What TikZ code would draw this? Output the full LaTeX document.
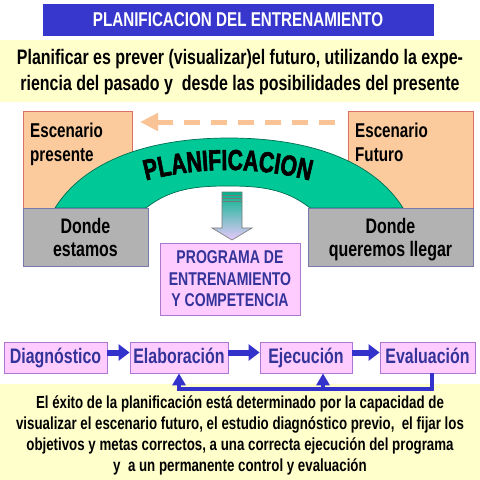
\documentclass[tikz,border=0pt]{standalone}
\usepackage{fontspec}
\setmainfont{Liberation Sans}[FakeStretch=0.76]
\newfontfamily\heavyfont{Liberation Sans}[FakeStretch=0.73,FakeBold=2]
\usetikzlibrary{arrows.meta,decorations.text}
\definecolor{titleblue}{RGB}{55,55,205}
\definecolor{bandyellow}{RGB}{255,255,204}
\definecolor{orangefill}{RGB}{251,203,158}
\definecolor{orangeline}{RGB}{220,110,100}
\definecolor{orangearrow}{RGB}{250,195,150}
\definecolor{grayfill}{RGB}{178,178,178}
\definecolor{grayline}{RGB}{120,120,170}
\definecolor{arcgreen}{RGB}{0,200,150}
\definecolor{arcline}{RGB}{0,110,80}
\definecolor{pinkfill}{RGB}{255,204,255}
\definecolor{pinkline}{RGB}{170,120,210}
\definecolor{navytext}{RGB}{51,51,153}
\definecolor{arrowblue}{RGB}{51,51,204}
\definecolor{arrowgray}{RGB}{120,120,120}
\definecolor{arrgreen}{RGB}{0,180,140}
\definecolor{arrlav}{RGB}{232,200,250}
\begin{document}
\begin{tikzpicture}[x=1pt,y=-1pt,
  obox/.style={draw=orangeline, fill=orangefill, line width=0.8pt, inner sep=0pt},
  gbox/.style={draw=grayline, fill=grayfill, line width=0.8pt, inner sep=0pt},
  pbox/.style={draw=pinkline, fill=pinkfill, line width=0.8pt, inner sep=0pt, text=navytext, font=\bfseries\fontsize{21}{25}\selectfont},
  rowbox/.style={pbox, minimum height=31pt, text height=15pt, text depth=4pt},
  lbl/.style={inner sep=0pt, font=\bfseries\fontsize{21}{24}\selectfont},
  flow/.style={draw=arrowblue, line width=6pt, -{Triangle[length=11pt,width=16pt]}},
  fb/.style={draw=arrowblue, line width=3.5pt},
  fbarrow/.style={fb, -{Triangle[length=12pt,width=13pt]}},
  darrow/.style={draw=orangearrow, line width=5pt, dash pattern=on 16pt off 11pt, -{Triangle[length=18pt,width=17pt]}}
]
\useasboundingbox (0,0) rectangle (480,480);
\fill[white] (0,0) rectangle (480,480);
% bands
\fill[bandyellow] (0,40) rectangle (480,102);
\fill[bandyellow] (0,384) rectangle (480,480);
% title
\node[fill=titleblue, draw=titleblue, minimum width=390pt, minimum height=31pt, inner sep=0pt, text=white, font=\bfseries\fontsize{20}{24}\selectfont] (title) at (238,19.5) {PLANIFICACION DEL ENTRENAMIENTO};
% intro text (base anchor = last line baseline)
\node[lbl, align=center, anchor=base, font=\bfseries\fontsize{21}{25.5}\selectfont] (intro) at (240,90) {Planificar es prever (visualizar)el futuro, utilizando la expe-\\riencia del pasado y~ desde las posibilidades del presente};
% scenario boxes
\node[obox, minimum width=109pt, minimum height=97pt] (epbox) at (77.5,159.5) {};
\node[obox, minimum width=125pt, minimum height=97pt] (efbox) at (410.5,159.5) {};
\node[lbl, align=left, anchor=base west, font=\bfseries\fontsize{20}{24}\selectfont] (eptext) at (30,161) {Escenario\\presente};
\node[lbl, align=left, anchor=base west, font=\bfseries\fontsize{20}{24}\selectfont] (eftext) at (355,161) {Escenario\\Futuro};
% dashed arrow
\coordinate (ds) at (335,122);
\coordinate (dt) at (140,122);
\draw[darrow] (ds) -- (dt);
% arch
\filldraw[fill=arcgreen, draw=arcline, line width=0.7pt] (55,208) .. controls (85,160) and (150,138) .. (229,138) .. controls (308,138) and (373,160) .. (403,208) -- (310,208) .. controls (285,188) and (258,186) .. (228,186) .. controls (198,186) and (171,188) .. (146,208) -- cycle;
\path[decorate, decoration={text along path, text align=center, text={|\heavyfont\bfseries\fontsize{29}{29}\selectfont|PLANIFICACION}}] (130,185) .. controls (195,165) and (261,165) .. (326,185);
% gray boxes
\node[gbox, minimum width=125pt, minimum height=58pt] (debox) at (85.5,237) {};
\node[gbox, minimum width=165pt, minimum height=58pt] (dqbox) at (390.5,237) {};
\node[lbl, align=center, anchor=base, font=\bfseries\fontsize{21}{23}\selectfont] (detext) at (85.5,256) {Donde\\estamos};
\node[lbl, align=center, anchor=base, font=\bfseries\fontsize{21}{23}\selectfont] (dqtext) at (390.5,256) {Donde\\queremos llegar};
% down arrow
\shadedraw[top color=arrgreen, bottom color=arrlav, draw=arrowgray, line width=0.6pt]
  (222,192) -- (242,192) -- (242,228) -- (252,228) -- (232,240) -- (212,228) -- (222,228) -- cycle;
\draw[arrowgray, line width=0.6pt] (222,195) -- (242,195) (222,198) -- (242,198) (222,201) -- (242,201);
% program box
\node[pbox, minimum width=140pt, minimum height=72pt, align=center, font=\bfseries\fontsize{18.5}{21.5}\selectfont] (prog) at (230,279) {PROGRAMA DE\\ENTRENAMIENTO\\Y COMPETENCIA};
% process row
\node[rowbox, minimum width=103pt] (diag) at (55.5,357.5) {Diagnóstico};
\node[rowbox, minimum width=98pt] (elab) at (179,357.5) {Elaboración};
\node[rowbox, minimum width=92pt] (ejec) at (306,357.5) {Ejecución};
\node[rowbox, minimum width=95pt] (eval) at (427.5,357.5) {Evaluación};
\draw[flow] ([yshift=5pt]diag.east) -- ([yshift=5pt]elab.west);
\draw[flow] ([yshift=5pt]elab.east) -- ([yshift=5pt]ejec.west);
\draw[flow] ([yshift=5pt]ejec.east) -- ([yshift=5pt]eval.west);
% feedback
\coordinate (fbR) at (432,389);
\coordinate (fbL) at (179,389);
\coordinate (fbM) at (323,389);
\draw[fbarrow] (eval.south -| fbR) -- (fbR) -- (fbL) -- (elab.south);
\draw[fbarrow] (fbM) -- (fbM |- ejec.south);
% conclusion (base anchor = last line baseline)
\node[lbl, align=center, anchor=base, font=\bfseries\fontsize{17.5}{20.7}\selectfont] (concl) at (240,471) {El éxito de la planificación está determinado por la capacidad de\\visualizar el escenario futuro, el estudio diagnóstico previo,~ el fijar los\\objetivos y metas correctos, a una correcta ejecución del programa\\y~ a un permanente control y evaluación};
\end{tikzpicture}
\end{document}
